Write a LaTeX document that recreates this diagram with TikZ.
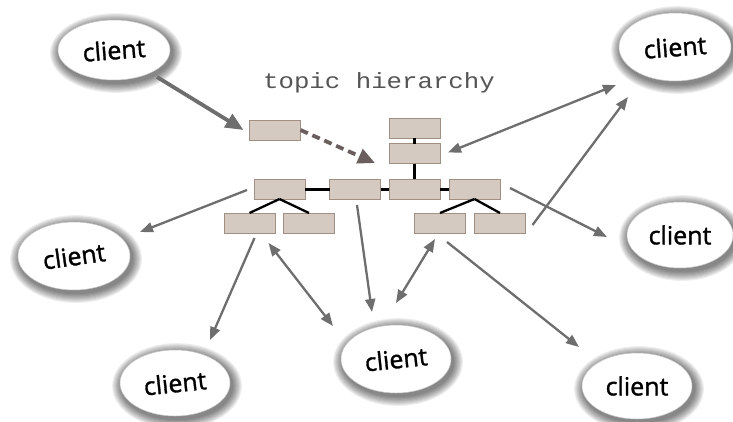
\documentclass[tikz,border=0pt]{standalone}
\usepackage{fontspec}
\newfontfamily\clientfont[FakeBold=1.3]{Open Sans}
\newfontfamily\titlefont{Liberation Mono}
\usetikzlibrary{arrows.meta,calc,shapes.geometric}
\definecolor{boxfill}{HTML}{D4CAC2}
\definecolor{boxline}{HTML}{A08F82}
\definecolor{arrgray}{HTML}{6E6E6E}
\definecolor{dashcol}{HTML}{6A5E5E}
\definecolor{titlecol}{HTML}{555555}
\newcommand\clientshadow[4]{%
  \foreach \k in {1,...,9}{\fill[black,opacity=0.065] (#1+2,#2+3) ellipse ({#3+\k*1.1} and {#4+\k*1.1});}}
\tikzset{
  topicbox/.style={draw=boxline, fill=boxfill, line width=0.8pt, minimum width=51pt, minimum height=20pt, inner sep=0pt, outer sep=0pt},
  client/.style={ellipse, fill=white, draw=gray!45, line width=0.5pt, inner sep=0pt, outer sep=0pt, font=\clientfont\fontsize{25}{25}\selectfont},
  treeline/.style={black, line width=3pt},
  thinline/.style={black, line width=2.3pt},
  arr/.style={arrgray, line width=2.3pt, -{Triangle[length=13pt,width=10pt]}},
  dblarr/.style={arrgray, line width=2.3pt, {Triangle[length=13pt,width=10pt]}-{Triangle[length=13pt,width=10pt]}},
  bigarr/.style={arrgray, line width=3.8pt, -{Triangle[length=18pt,width=15pt]}},
  dasharr/.style={dashcol, line width=3.8pt, dash pattern=on 8pt off 5pt, -{Triangle[length=17pt,width=15pt]}}
}
\begin{document}
\begin{tikzpicture}[x=1pt,y=-1pt]
\useasboundingbox (0,0) rectangle (733,421);
\fill[white] (0,0) rectangle (733,421);

% title
\node[anchor=base, text=titlecol, inner sep=0pt] (title) at (379,88)
  {\scalebox{1.17}[1]{\titlefont\fontsize{22}{22}\selectfont topic hierarchy}};

% topic boxes
\node[topicbox] (L1) at (275,130) {};
\node[topicbox] (T1) at (414.5,128) {};
\node[topicbox] (T2) at (414.5,153.5) {};
\node[topicbox] (A) at (279.5,189) {};
\node[topicbox] (B) at (355,189) {};
\node[topicbox] (C) at (414.5,189) {};
\node[topicbox] (D) at (474.5,189) {};
\node[topicbox] (A1) at (249.5,223) {};
\node[topicbox] (A2) at (309,223) {};
\node[topicbox] (D1) at (440,223) {};
\node[topicbox] (D2) at (500,223) {};

% tree connections
\draw[treeline] (A.east) -- (B.west);
\draw[treeline] (B.east) -- (C.west);
\draw[treeline] (C.east) -- (D.west);
\draw[thinline] (T1.south) -- (T2.north);
\draw[treeline] (T2.south) -- (C.north);
\draw[thinline] (A.south) -- (A1.north);
\draw[thinline] (A.south) -- (A2.north);
\draw[thinline] (D.south) -- (D1.north);
\draw[thinline] (D.south) -- (D2.north);

% clients
\clientshadow{114}{50}{56}{30}
\node[client, minimum width=112pt, minimum height=60pt] (cTL) at (114,50) {\rotatebox{4.5}{client}};
\clientshadow{675}{47}{56}{34}
\node[client, minimum width=112pt, minimum height=68pt] (cTR) at (675,47) {\rotatebox{4.5}{client}};
\clientshadow{74}{256}{56}{34}
\node[client, minimum width=112pt, minimum height=68pt] (cL) at (74,256) {\rotatebox{8}{client}};
\clientshadow{680}{235}{53}{33}
\node[client, minimum width=106pt, minimum height=66pt] (cR) at (680,235) {client};
\clientshadow{175}{383}{55}{33}
\node[client, minimum width=110pt, minimum height=66pt] (cBL) at (175,383) {\rotatebox{6}{client}};
\clientshadow{396}{359}{55}{34}
\node[client, minimum width=110pt, minimum height=68pt] (cBC) at (396,359) {\rotatebox{6}{client}};
\clientshadow{637}{386}{55}{33}
\node[client, minimum width=110pt, minimum height=66pt] (cBR) at (637,386) {client};

% arrows
\draw[bigarr] ($(cTL)+(43,27)$) -- ([xshift=-6pt]L1.west);
\draw[dasharr] (L1.east) -- ($(C.north west)+(-14,-16)$);
\draw[dblarr] ($(T2.east)+(8,-1)$) -- ($(cTR)+(-59,38)$);
\draw[arr] ($(D2.east)+(7,2)$) -- ($(cTR)+(-47,50)$);
\draw[arr] ($(A.west)+(-7,1)$) -- ($(cL)+(66,-24)$);
\draw[arr] ($(D.east)+(10,-1)$) -- ($(cR)+(-73,2)$);
\draw[arr] ($(A1.south)+(5,5)$) -- ($(cBL)+(35,-43)$);
\draw[dblarr] ($(A2.south west)+(-15,10)$) -- ($(cBC)+(-63,-33)$);
\draw[arr] ($(B.south)+(2,6)$) -- ($(cBC)+(-24,-47)$);
\draw[dblarr] ($(D1.south)+(-5,6)$) -- ($(cBC)+(0,-56)$);
\draw[arr] ($(D1.south)+(7,9)$) -- ($(cBR)+(-58,-39)$);
\end{tikzpicture}
\end{document}
